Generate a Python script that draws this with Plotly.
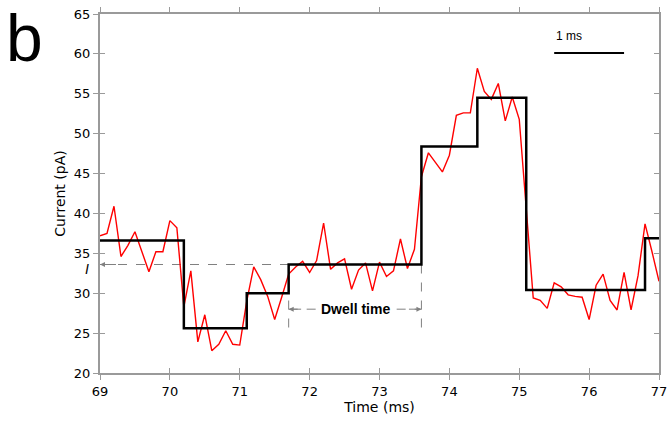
import plotly.graph_objects as go

# ---- data ----
time_ms = [69.0, 69.1, 69.2, 69.3, 69.4, 69.5, 69.6, 69.7, 69.8, 69.9,
           70.0, 70.1, 70.2, 70.3, 70.4, 70.5, 70.6, 70.7, 70.8, 70.9,
           71.0, 71.1, 71.2, 71.3, 71.4, 71.5, 71.6, 71.7, 71.8, 71.9,
           72.0, 72.1, 72.2, 72.3, 72.4, 72.5, 72.6, 72.7, 72.8, 72.9,
           73.0, 73.1, 73.2, 73.3, 73.4, 73.5, 73.6, 73.7, 73.8, 73.9,
           74.0, 74.1, 74.2, 74.3, 74.4, 74.5, 74.6, 74.7, 74.8, 74.9,
           75.0, 75.1, 75.2, 75.3, 75.4, 75.5, 75.6, 75.7, 75.8, 75.9,
           76.0, 76.1, 76.2, 76.3, 76.4, 76.5, 76.6, 76.7, 76.8, 76.9,
           77.0]
current_pA = [37.2, 37.5, 40.9, 34.6, 36.0, 37.7, 35.2, 32.7, 35.2, 35.2,
              39.1, 38.2, 28.3, 32.8, 23.9, 27.3, 22.8, 23.6, 25.3, 23.6,
              23.5, 29.0, 33.3, 31.7, 29.6, 26.7, 29.5, 32.4, 33.3, 34.0,
              32.6, 34.1, 38.8, 33.0, 33.8, 34.3, 30.5, 32.9, 33.8, 30.3,
              33.9, 32.1, 32.8, 36.8, 33.1, 35.5, 44.6, 47.6, 46.4, 45.2,
              47.3, 52.3, 52.6, 52.6, 58.2, 55.3, 54.3, 56.3, 51.6, 54.6,
              51.8, 40.9, 29.4, 29.1, 28.1, 31.3, 30.8, 29.8, 29.6, 29.5,
              26.7, 31.0, 32.4, 29.1, 27.9, 32.6, 27.9, 32.2, 38.7, 35.2,
              31.5]
step_edges = [69.0, 70.2, 71.1, 71.7, 73.6, 74.4, 75.1, 76.8, 77.0]
step_levels = [36.6, 25.6, 30.0, 33.6, 48.4, 54.5, 30.4, 36.9]
x_ticks = [69, 70, 71, 72, 73, 74, 75, 76, 77]
y_ticks = [20, 25, 30, 35, 40, 45, 50, 55, 60, 65]

dwell_level = step_levels[3]
dwell_start = step_edges[3]
dwell_end = step_edges[4]
dwell_arrow_y = 28.0
dwell_bottom = 25.6
scale_x0, scale_x1, scale_y = 75.5, 76.5, 60.1

GRAY = "#9a9a9a"
DASH = "#808080"
FONT = "DejaVu Sans"

fig = go.Figure()
fig.add_trace(go.Scatter(x=time_ms, y=current_pA, mode="lines",
                         line=dict(color="#ff0000", width=1.4),
                         showlegend=False, hoverinfo="skip"))
fig.add_trace(go.Scatter(x=step_edges, y=step_levels + [step_levels[-1]],
                         mode="lines", line=dict(color="black", width=2.5, shape="hv"),
                         showlegend=False, hoverinfo="skip"))
# invisible trace to activate overlay axes for crossing ticks
fig.add_trace(go.Scatter(x=step_edges, y=step_levels + [step_levels[-1]],
                         xaxis="x2", yaxis="y2", mode="lines",
                         line=dict(width=0), opacity=0,
                         showlegend=False, hoverinfo="skip"))

shapes = [
    dict(type="line", xref="x", yref="y", x0=69.0, x1=dwell_start,
         y0=dwell_level, y1=dwell_level, line=dict(color=DASH, width=1, dash="dash"), layer="below"),
    dict(type="line", xref="x", yref="y", x0=dwell_start, x1=dwell_start,
         y0=dwell_level, y1=dwell_bottom, line=dict(color=DASH, width=1, dash="dash"), layer="below"),
    dict(type="line", xref="x", yref="y", x0=dwell_end, x1=dwell_end,
         y0=dwell_level, y1=dwell_bottom, line=dict(color=DASH, width=1, dash="dash"), layer="below"),
    dict(type="line", xref="x", yref="y", x0=dwell_start, x1=dwell_end,
         y0=dwell_arrow_y, y1=dwell_arrow_y, line=dict(color=DASH, width=1, dash="dash"), layer="below"),
    dict(type="line", xref="x", yref="y", x0=scale_x0, x1=scale_x1,
         y0=scale_y, y1=scale_y, line=dict(color="black", width=2)),
]

annotations = [
    dict(text="b", xref="paper", yref="paper", x=-0.17, y=1.039, xanchor="left", yanchor="top",
         borderpad=0, showarrow=False,
         font=dict(family="Liberation Sans", size=66, color="black")),
    dict(text="<i>I</i>", xref="paper", yref="y", x=-0.024, y=dwell_level - 0.6, xanchor="center",
         yanchor="middle", showarrow=False, font=dict(family="Liberation Sans", size=14, color="black")),
    dict(text="<b>Dwell time</b>", xref="x", yref="y", x=(dwell_start + dwell_end) / 2,
         y=dwell_arrow_y, showarrow=False, bgcolor="white", borderpad=0,
         font=dict(family="Liberation Sans", size=14, color="black")),
    dict(text="1 ms", xref="x", yref="y", x=scale_x0, y=scale_y + 1.0, xanchor="left",
         yanchor="bottom", showarrow=False,
         font=dict(family="Liberation Sans", size=12, color="black")),
]
# arrowheads
for (xh, xt, yy) in [(69.0, 69.25, dwell_level),
                     (dwell_start, dwell_start + 0.2, dwell_arrow_y),
                     (dwell_end, dwell_end - 0.2, dwell_arrow_y)]:
    annotations.append(dict(text="", x=xh, y=yy, ax=xt, ay=yy, xref="x", yref="y",
                            axref="x", ayref="y", showarrow=True, arrowhead=2,
                            arrowsize=1, arrowwidth=1, arrowcolor=DASH))

fig.update_layout(
    width=669, height=421,
    margin=dict(l=100, r=10, t=14, b=48),
    paper_bgcolor="white", plot_bgcolor="white",
    font=dict(family=FONT, size=13, color="black"),
    shapes=shapes, annotations=annotations,
    xaxis=dict(range=[69, 77], tickvals=x_ticks, ticks="outside", ticklen=5,
               tickcolor=GRAY, tickwidth=1, showline=True, linecolor=GRAY, linewidth=2,
               mirror="ticks", showgrid=False, zeroline=False, automargin=False,
               title=dict(text="Time (ms)", standoff=5, font=dict(size=14)),
               tickfont=dict(size=13)),
    xaxis2=dict(range=[69, 77], overlaying="x", anchor="y", side="bottom", tickvals=x_ticks,
                ticks="inside", ticklen=5, tickcolor=GRAY, tickwidth=1, automargin=False,
                showticklabels=False, showline=False, showgrid=False, zeroline=False),
    yaxis=dict(range=[20, 65], tickvals=y_ticks, ticks="outside", ticklen=5,
               tickcolor=GRAY, tickwidth=1, showline=True, linecolor=GRAY, linewidth=2,
               mirror=True, showgrid=False, zeroline=False, automargin=False,
               title=dict(text="Current (pA)", standoff=5, font=dict(size=14)),
               tickfont=dict(size=13)),
    yaxis2=dict(range=[20, 65], overlaying="y", anchor="x", side="left", tickvals=y_ticks,
                ticks="inside", ticklen=5, tickcolor=GRAY, tickwidth=1, mirror="ticks",
                automargin=False,
                showticklabels=False, showline=False, showgrid=False, zeroline=False),
)

fig.write_html("out.html", config={"displayModeBar": False},
               post_script="document.body.style.margin='0';document.body.style.overflow='hidden';")
